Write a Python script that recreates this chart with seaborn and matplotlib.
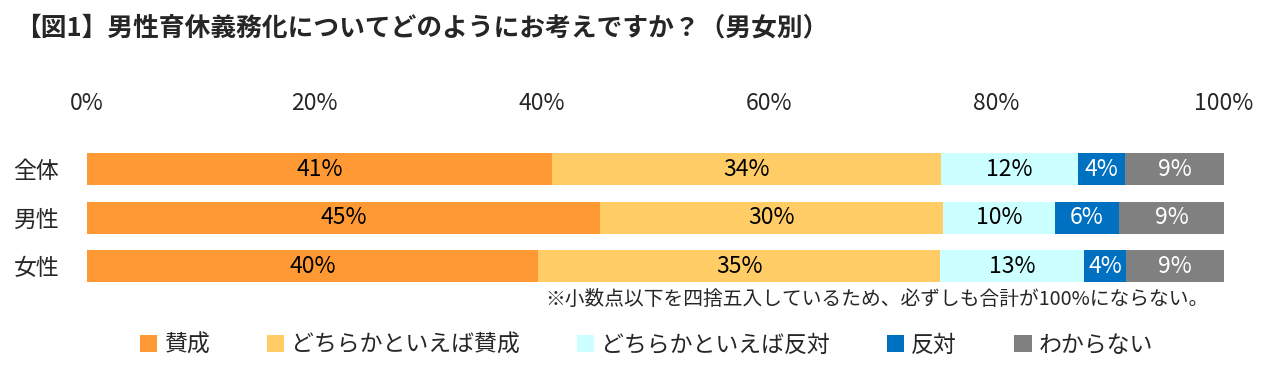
import matplotlib
matplotlib.use('Agg')
import matplotlib.pyplot as plt
import seaborn as sns
import pandas as pd
import numpy as np
from matplotlib.patches import Patch

# Datos
categorias = ['全体', '男性', '女性']
series = ['賛成', 'どちらかといえば賛成', 'どちらかといえば反対', '反対', 'わからない']
sanseii = [40.9, 45.1, 39.7]
yaya_sansei = [34.2, 30.2, 35.3]
yaya_hantai = [12.1, 9.8, 12.7]
hantai = [4.1, 5.7, 3.7]
wakaranai = [8.7, 9.2, 8.6]
x_ticks = [0, 20, 40, 60, 80, 100]

colores = ['#FF9933', '#FFCC66', '#CCFFFF', '#0070C0', '#808080']
color_texto = ['black', 'black', 'black', 'white', 'white']

sns.set_style('white')
plt.rcParams['font.family'] = ['Noto Sans CJK JP', 'DejaVu Sans']

df = pd.DataFrame({'categoria': categorias})
for nombre, vals in zip(series, [sanseii, yaya_sansei, yaya_hantai, hantai, wakaranai]):
    df[nombre] = vals
# acumulados para apilar
acum = df[series].cumsum(axis=1)

fig = plt.figure(figsize=(12.85, 3.84), dpi=100)
W, H = 1285, 384
ax = fig.add_axes([87 / W, 1 - 290.25 / H, (1224 - 87) / W, 145 / H])

# dibujar de mayor a menor acumulado
for i in reversed(range(len(series))):
    d = pd.DataFrame({'categoria': categorias, 'valor': acum[series[i]].values})
    sns.barplot(data=d, x='valor', y='categoria', color=colores[i],
                orient='h', width=0.66, saturation=1, linewidth=0,
                ax=ax, zorder=2)

# etiquetas de valor
for i, s in enumerate(series):
    for j in range(len(categorias)):
        v = df[s].iloc[j]
        centro = acum[s].iloc[j] - v / 2
        ax.text(centro, j, f'{int(v + 0.5)}%', ha='center', va='center',
                fontsize=16.5, color=color_texto[i])

ax.set_xlim(0, 100)
ax.set_ylim(2.5, -0.5)
ax.set_xticks(x_ticks)
ax.set_xticklabels([f'{t}%' for t in x_ticks], fontsize=16.5)
ax.xaxis.tick_top()
ax.tick_params(axis='x', length=0, pad=22)
ax.tick_params(axis='y', length=0, pad=20, labelsize=16.5)
ax.set_xlabel('')
ax.set_ylabel('')
sns.despine(ax=ax, left=True, bottom=True, top=True, right=True)

fig.text(15 / W, 1 - 28 / H, '【図1】男性育休義務化についてどのようにお考えですか？（男女別）',
         fontsize=18.5, fontweight='bold', va='center', ha='left')
fig.text(1209 / W, 1 - 299 / H, '※小数点以下を四捨五入しているため、必ずしも合計が100%にならない。',
         fontsize=14.2, va='center', ha='right')

handles = [Patch(facecolor=c, edgecolor='none') for c in colores]
fig.legend(handles, series, ncol=5, loc='center', bbox_to_anchor=(0.503, 1 - 345 / H),
           frameon=False, fontsize=16.5, handlelength=0.75, handleheight=0.75,
           handletextpad=0.3, columnspacing=2.5)

fig.savefig('out.png', dpi=100)
